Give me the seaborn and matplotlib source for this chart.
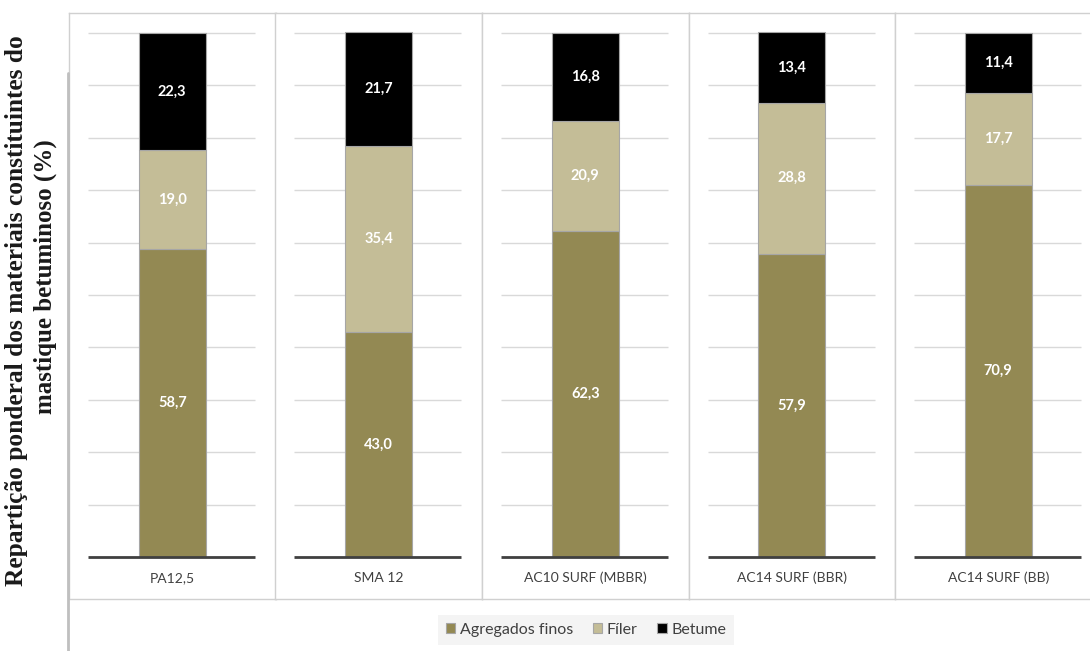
import pandas as pd
import matplotlib.pyplot as plt
import seaborn as sns
from matplotlib.patches import Patch
from matplotlib.lines import Line2D

# -------------------- DATA --------------------
misturas = ["PA12,5", "SMA 12", "AC10 SURF (MBBR)", "AC14 SURF (BBR)", "AC14 SURF (BB)"]
agregados = [58.7, 43.0, 62.3, 57.9, 70.9]
filer = [19.0, 35.4, 20.9, 28.8, 17.7]
betume = [22.3, 21.7, 16.8, 13.4, 11.4]
componentes = ["Agregados finos", "Fíler", "Betume"]
cores = ["#938953", "#C4BD97", "#000000"]

df = pd.DataFrame({
    "Mistura": misturas,
    "Agregados finos": agregados,
    "Fíler": filer,
    "Betume": betume,
})

sns.set_theme(style="white")
plt.rcParams["font.family"] = ["Lato", "DejaVu Sans"]

W, H = 1090, 651
fig = plt.figure(figsize=(W / 100, H / 100), dpi=100)

# -------------------- PANELS --------------------
panel_w = 206.5
top_px, bot_px = 13, 599
for i, row in df.iterrows():
    x0 = 69 + i * panel_w
    ax = fig.add_axes([x0 / W, (H - bot_px) / H, panel_w / W, (bot_px - top_px) / H])
    sub = pd.DataFrame({"Mistura": [row["Mistura"]]})
    base = 0.0
    for comp, cor in zip(componentes, cores):
        sub["v"] = [row[comp]]
        sns.barplot(data=sub, x="Mistura", y="v", bottom=base, color=cor,
                    width=0.325, edgecolor="#a6a6a6", linewidth=0.8,
                    errorbar=None, ax=ax, zorder=3, saturation=1)
        ax.text(0, base + row[comp] / 2, f"{row[comp]:.1f}".replace(".", ","),
                ha="center", va="center", color="white", fontsize=10.5,
                fontweight="bold", zorder=4)
        base += row[comp]

    ax.set_xlim(-0.5, 0.5)
    ax.set_ylim(-8.0, 103.8)
    gx0, gx1 = -0.5 + 19 / panel_w, -0.5 + 186 / panel_w
    ax.hlines(range(10, 101, 10), gx0, gx1, color="#d9d9d9", lw=1, zorder=1)
    ax.hlines(0, gx0, gx1, color="#404040", lw=2, zorder=5)
    ax.text(0, -4.0, row["Mistura"], ha="center", va="center",
            fontsize=10, color="#404040")
    ax.set_xticks([])
    ax.set_yticks([])
    ax.set_xlabel("")
    ax.set_ylabel("")
    for s in ax.spines.values():
        s.set_color("#d0d0d0")
        s.set_linewidth(1)

# outer left frame line
fig.add_artist(Line2D([67.5 / W, 67.5 / W], [0, (H - 73) / H],
                      color="#bfbfbf", lw=2, transform=fig.transFigure))

# -------------------- Y LABEL --------------------
fig.text(17 / W, 1 - 311 / H, "Repartição ponderal dos materiais constituintes do",
         rotation=90, ha="center", va="center", fontsize=18.3, fontweight="bold",
         family="Liberation Serif", color="#1a1a1a")
fig.text(45 / W, 1 - 277 / H, "mastique betuminoso (%)",
         rotation=90, ha="center", va="center", fontsize=18, fontweight="bold",
         family="Liberation Serif", color="#1a1a1a")

# -------------------- LEGEND --------------------
handles = [Patch(facecolor=c, edgecolor="#a6a6a6", lw=0.8) for c in cores]
leg = fig.legend(handles, componentes, loc="center", ncol=3,
                 bbox_to_anchor=(586 / W, 1 - 630 / H), fontsize=11.5,
                 frameon=True, fancybox=False, handlelength=0.6, handleheight=0.6,
                 handletextpad=0.3, columnspacing=1.2, borderpad=0.5)
leg.get_frame().set_facecolor("#f2f2f2")
leg.get_frame().set_edgecolor("none")
for t in leg.get_texts():
    t.set_color("#404040")

fig.savefig("out.png", dpi=100)
